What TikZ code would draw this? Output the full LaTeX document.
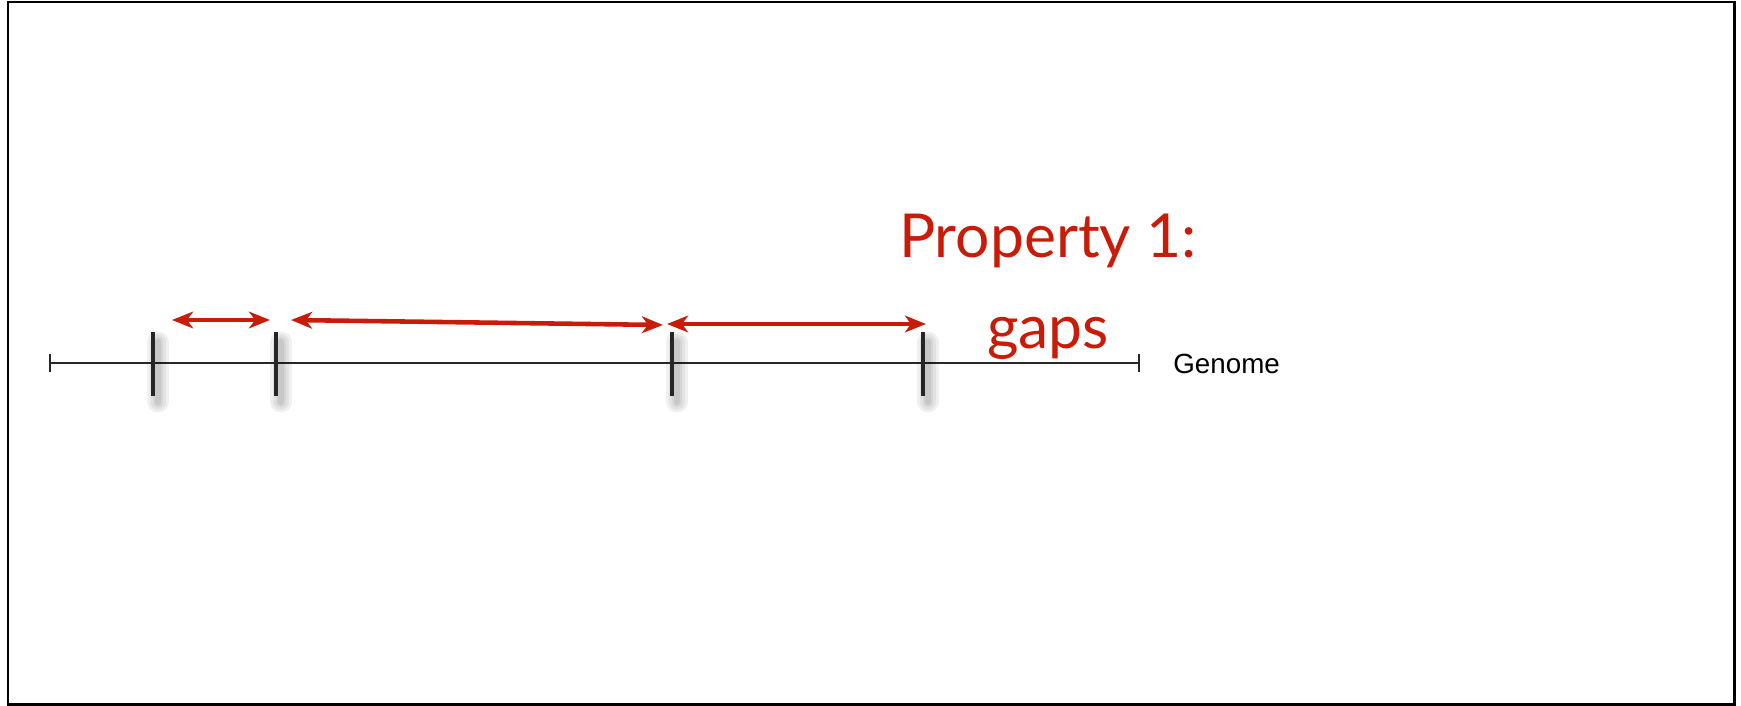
\documentclass[tikz,border=0pt]{standalone}
\usepackage{fontspec}
\setmainfont{Liberation Sans}
\newfontfamily\gapfont{Lato}
\usetikzlibrary{arrows.meta, positioning}
\definecolor{gapred}{RGB}{200, 28, 8}
\definecolor{axisgray}{RGB}{40, 40, 40}

\begin{document}
\begin{tikzpicture}[x=0.02cm, y=-0.02cm,
    axis/.style={draw=axisgray, line width=1.4pt, {Bar[width=10pt]}-{Bar[width=10pt]}},
    marker/.style={draw=black!85, line width=1.9pt},
    markershade/.style={draw=black, line width=#1, line cap=round, opacity=0.06},
    gap/.style={draw=gapred, line width=2.6pt, {Stealth[length=12pt, width=9.5pt, inset=3.5pt]}-{Stealth[length=12pt, width=9.5pt, inset=3.5pt]}},
    gaplabel/.style={text=gapred, font=\gapfont\fontsize{34.5}{42}\selectfont, inner sep=0pt}]
  \useasboundingbox (0,0) rectangle (1741,706);
  \draw[line width=1.7pt] (8,2) rectangle (1734,704);

  % genome line
  \coordinate (gstart) at (49,363);
  \coordinate (gend) at (1140,363);
  \draw[axis] (gstart) -- (gend);
  \node[anchor=base west, inner sep=0pt, font=\fontsize{15.8}{18}\selectfont] (genome) at (1173,373) {Genome};

  % markers with soft shadows
  \foreach \x [count=\i] in {153, 276, 672, 923} {
    \coordinate (m\i) at (\x,363);
    \foreach \w in {12pt, 9pt, 6pt, 3.5pt}
      \draw[markershade=\w] (\x+5,342) -- (\x+5,402);
    \draw[marker] (\x,332) -- (\x,396);
  }

  % gaps between markers
  \coordinate (a1) at (172,320);
  \coordinate (b1) at (270,320);
  \coordinate (a2) at (291,320);
  \coordinate (b2) at (663,325);
  \coordinate (a3) at (667,324);
  \coordinate (b3) at (926,324);
  \draw[gap] (a1) -- (b1);
  \draw[gap] (a2) -- (b2);
  \draw[gap] (a3) -- (b3);

  \node[gaplabel, anchor=base] (prop) at (1048,257) {Property 1:};
  \node[gaplabel, anchor=base] (gapword) at (1048,348) {gaps};
\end{tikzpicture}
\end{document}
